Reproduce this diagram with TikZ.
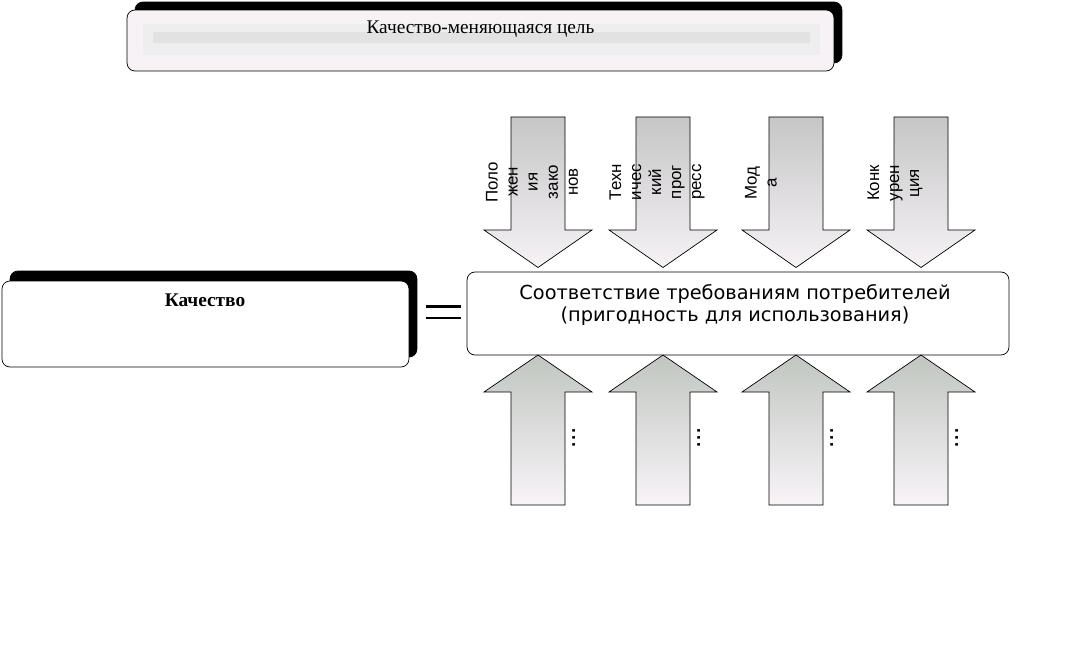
\documentclass[tikz,border=0pt]{standalone}
\usepackage{fontspec}
\setmainfont{Liberation Serif}
\setsansfont{DejaVu Sans}
\newfontfamily\arrowfont{Liberation Sans}
\usepackage{tikz}
\usetikzlibrary{positioning, calc}
\definecolor{boxPink}{RGB}{246, 242, 246}
\definecolor{bandOuter}{RGB}{238, 238, 238}
\definecolor{bandInner}{RGB}{226, 226, 226}
\definecolor{downTop}{RGB}{198, 198, 198}
\definecolor{downBottom}{RGB}{246, 242, 246}
\definecolor{upTop}{RGB}{192, 198, 192}
\definecolor{upBottom}{RGB}{248, 244, 248}

\begin{document}
\begin{tikzpicture}[
    x=0.02cm, y=-0.02cm,
    shadowbox/.style={rectangle, rounded corners=4.5pt, draw=black, fill=black, inner sep=0pt},
    roundbox/.style={rectangle, rounded corners=4.5pt, draw=black, thin, inner sep=0pt},
    serifcap/.style={font=\fontsize{11}{13}\selectfont, inner sep=0pt},
    maintext/.style={font=\sffamily\fontsize{11}{12.5}\selectfont, align=center, inner sep=0pt},
    arrtext/.style={font=\arrowfont\fontsize{9.6}{11.4}\selectfont, align=center, rotate=90, inner sep=0pt},
    dottext/.style={font=\arrowfont\fontsize{15}{15}\selectfont, rotate=90, inner sep=0pt},
    eqline/.style={line width=1.5pt},
    downarrow/.pic={\path[draw=black, top color=downTop, bottom color=downBottom]
        (-27,-113) -- (27,-113) -- (27,0) -- (54,0) -- (0,37.5) -- (-54,0) -- (-27,0) -- cycle;},
    uparrow/.pic={\path[draw=black, top color=upTop, bottom color=upBottom]
        (0,-37) -- (54,0) -- (27,0) -- (27,113) -- (-27,113) -- (-27,0) -- (-54,0) -- cycle;}
]
\useasboundingbox (0,0) rectangle (1084,655);

\node[shadowbox, minimum width=14.14cm, minimum height=1.22cm] (goalshadow) at (488.5,32.5) {};
\node[roundbox, fill=boxPink, minimum width=14.14cm, minimum height=1.22cm] (goal) at (480.5,40.5) {};
\fill[bandOuter] (143,24) rectangle (820,55);
\fill[bandInner] (153,32) rectangle (810,43);
\node[serifcap] (goaltext) at (480.5,29) {Качество-меняющаяся цель};

\node[shadowbox, minimum width=8.14cm, minimum height=1.72cm] (qualityshadow) at (213.5,314) {};
\node[roundbox, fill=white, minimum width=8.14cm, minimum height=1.72cm] (quality) at (205.5,324) {};
\node[serifcap, font=\bfseries\fontsize{11}{13}\selectfont] (qualitytext) at (205,300) {Качество};

\draw[eqline] (426,306.5) -- (461,306.5);
\draw[eqline] (426,318) -- (461,318);

\node[roundbox, fill=white, minimum width=10.84cm, minimum height=1.66cm] (fit) at (738,313.5) {};
\node[maintext] (fittext) at (735,305) {Соответствие требованиям потребителей\\(пригодность для использования)};

\pic (lawsarrow) at (538,230) {downarrow};
\pic (techarrow) at (663,230) {downarrow};
\pic (fashionarrow) at (796,230) {downarrow};
\pic (rivalarrow) at (921,230) {downarrow};

\node[arrtext] (laws) at (532,182) {Поло\\жен\\ия\\зако\\нов};
\node[arrtext] (tech) at (657,182) {Техн\\ичес\\кий\\прог\\ресс};
\node[arrtext] (fashion) at (761,183) {Мод\\а};
\node[arrtext] (rival) at (895,183) {Конк\\урен\\ция};

\pic (upone) at (538,392) {uparrow};
\pic (uptwo) at (663,392) {uparrow};
\pic (upthree) at (796,392) {uparrow};
\pic (upfour) at (921,392) {uparrow};

\node[dottext] (dotsone) at (574,438) {...};
\node[dottext] (dotstwo) at (699,438) {...};
\node[dottext] (dotsthree) at (832,438) {...};
\node[dottext] (dotsfour) at (957,438) {...};
\end{tikzpicture}
\end{document}
